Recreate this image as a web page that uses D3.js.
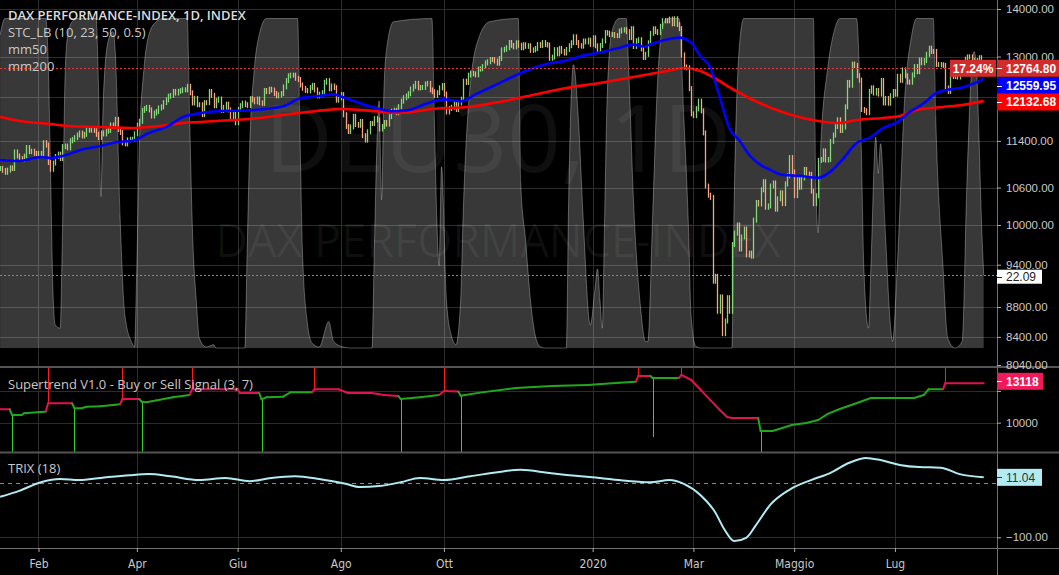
<!DOCTYPE html>
<html><head><meta charset="utf-8">
<script src="https://cdn.jsdelivr.net/npm/d3@7"></script>
<style>html,body{margin:0;padding:0;background:#000;overflow:hidden}svg{display:block}</style>
</head><body><svg id="c" width="1059" height="575"></svg>
<script>
// ---------- DATA ----------
const close2019 = [10921,10887,10856,10892,10931,10919,11205,11136,11090,11071,11131,11282,11210,11218,11181,11173,
11180,11176,11368,11325,11022,10907,11014,11126,11167,11090,11299,11309,11276,11402,11423,11458,11505,11540,11487,11516,
11602,11592,11620,11588,11517,11458,11543,11524,11572,11587,11686,11657,11789,11603,11550,11364,11346,11419,11428,11428,11526,
11681,11754,11954,11988,12010,11963,11850,11905,11935,11999,12020,12101,12153,12222,12235,12313,12282,12315,12328,12344,
12345,12412,12286,12093,12180,12060,12060,11876,12100,12099,12310,12238,12041,12143,12169,11952,12011,12071,11964,11837,11902,11727,
11971,12043,12090,12060,12045,12175,12152,12115,12169,12096,12086,12331,12308,12355,12340,12274,12228,12245,12271,12399,
12521,12616,12630,12629,12568,12543,12437,12373,12332,12323,12387,12430,12342,12227,12260,12289,12490,12522,12362,12419,12386,12147,12189,
12253,11873,11659,11568,11650,11845,11694,11680,11750,11493,11413,11563,11715,11712,11802,11777,11612,11658,11731,11702,11838,11939,
11953,11910,12025,12127,12192,12226,12268,12359,12410,12469,12381,12389,12390,12457,12468,12342,12307,12234,12289,12381,12428,
12263,11925,11990,12013,12097,11970,12094,12164,12512,12486,12629,12670,12655,12634,12748,12755,12799,12872,12895,12941,12940,12910,12867,
12961,13136,13148,13179,13289,13228,13198,13283,13230,13180,13242,13208,13221,13126,13137,13164,13246,13227,13287,13245,13236,
12965,12989,13141,13055,13167,13106,13071,13145,13222,13283,13407,13287,13222,13212,13319,13300,13337,13249];
const close2020 = [13386,13219,13127,13227,13321,13495,13483,13452,13456,13432,13430,13526,13548,13555,13515,13389,13577,13205,13324,13345,13157,12982,
13045,13282,13479,13575,13514,13494,13627,13749,13745,13744,13783,13681,13789,13664,13579,13035,12790,12775,12367,11890,
11857,11985,12128,11945,11542,10625,10475,10439,9161,9232,8742,8939,8442,8610,8929,8742,9701,9874,10000,9633,9815,9936,
9544,9571,9526,10075,10356,10332,10564,10697,10280,10301,10626,10676,10250,10416,10514,10337,10660,10796,11107,10862,
10467,10730,10607,10760,10904,10825,10820,10542,10337,10465,11058,11075,11223,11065,11074,11391,11504,11657,11781,11586,
11650,12021,12487,12431,12848,12820,12617,12530,11970,11949,11911,12315,12382,12281,12331,12262,12524,12093,12178,12089,12232,12311,
12260,12608,12528,12733,12616,12495,12490,12633,12800,12697,12931,12874,12920,13046,13171,13105,13104,12838,12839,12835,12822,12379,12313,
12647,12601,12660,12592,12674,12687,12947,12994,12993,12901,12920,12881,12977,12830,12764.8];

// moving averages: [barIndex, value]
const mm50 = [[0,11066],[8,11049],[17,11118],[21,11101],[26,11135],[35,11257],[42,11309],[49,11379],[55,11397],[62,11540],[70,11666],[76,11827],[83,11900],[90,11938],[104,11956],[118,12031],[125,12181],[132,12219],[139,12257],[143,12200],[150,12087],[157,11993],[164,11938],[170,11956],[178,12087],[185,12162],[192,12124],[199,12276],[208,12469],[215,12626],[222,12764],[229,12864],[236,12919],[243,13020],[250,13081],[257,13163],[264,13245],[268,13204],[272,13266],[278,13349],[283,13390],[288,13286],[292,13000],[296,12781],[300,12200],[304,11628],[308,11414],[313,11118],[317,10981],[321,10896],[326,10812],[333,10796],[341,10762],[346,10862],[351,11066],[357,11361],[363,11468],[368,11628],[374,11737],[379,11919],[385,12087],[390,12276],[396,12352],[401,12390],[407,12488],[410,12559.95]];
const mm200 = [[0,11833],[8,11759],[21,11704],[28,11668],[42,11649],[55,11631],[62,11649],[70,11686],[76,11722],[83,11740],[97,11777],[104,11795],[118,11870],[132,11944],[143,11981],[160,11925],[167,11906],[180,11981],[195,12018],[208,12112],[222,12244],[236,12379],[250,12476],[264,12593],[271,12652],[278,12711],[285,12771],[292,12711],[297,12593],[306,12341],[313,12169],[326,11925],[341,11759],[350,11722],[357,11777],[368,11814],[375,11851],[382,11962],[393,12018],[401,12055],[410,12132.68]];

// STC_LB oscillator (0-100): [barIndex, value]
const stc = [[0,95],[2,100],[19,100],[20,88],[21,55],[22,18],[23,7],[25,6],[26,35],[27,80],[28,94],[30,99],[32,100],[40,100],[41,80],[42,46],[43,75],[45,93],[47,96],[48,90],[50,40],[52,10],[55,1.5],[56,0.3],[57,25],[58,60],[60,85],[62,95],[65,99],[68,100],[78,100],[79,70],[80,40],[82,12],[83,3],[86,0.3],[89,1],[90,0],[102,0],[103,30],[104,60],[106,85],[108,95],[111,100],[124,100],[125,65],[126,30],[128,8],[130,1.5],[133,0.3],[137,8],[139,2],[143,0.3],[146,0],[155,0],[156,30],[157,60],[158,75],[159,45],[160,78],[161,90],[164,99],[180,100],[181,70],[182,40],[183,25],[184,55],[186,15],[188,4],[190,1],[192,15],[193,40],[196,80],[200,95],[204,99],[216,100],[217,50],[219,33],[221,15],[223,4],[225,0.5],[227,0],[236,0],[237,45],[238,75],[239,86],[241,70],[243,40],[246,7],[248,18],[249,24],[250,15],[251,6],[252,40],[253,75],[255,96],[258,100],[261,100],[262,85],[264,45],[267,12],[269,2],[270,2],[272,40],[274,80],[276,97],[278,100],[283,100],[285,70],[287,35],[288,10],[290,0.5],[292,0],[305,0],[306,45],[308,90],[310,100],[339,100],[340,50],[341,35],[342,60],[345,85],[348,97],[350,100],[357,100],[359,60],[360,25],[362,6],[363,25],[365,64],[366,53],[367,62],[369,35],[371,8],[372,2],[374,25],[377,75],[380,95],[382,100],[389,100],[390,70],[393,25],[395,3],[398,0],[401,2],[403,50],[405,85],[406,90],[407,85],[408,65],[409,40],[410,22.09]];

// Supertrend: [barIndex, value, direction (1 = up/green, -1 = down/red)]
const supertrend = [[0,11057,-1],[4,11057,-1],[5,10607,1],[9,10607,1],[10,10740,1],[17,10843,1],[19,10868,1],[20,11530,-1],[30,11530,-1],[31,11136,1],[34,11136,1],[36,11262,1],[42,11300,1],[48,11420,1],[50,11451,1],[51,11869,-1],[58,11869,-1],[59,11656,1],[61,11620,1],[66,11790,1],[72,12000,1],[79,12184,1],[80,12634,-1],[99,12634,-1],[100,12340,-1],[108,12340,-1],[109,11845,1],[111,12000,1],[118,12050,1],[121,12397,1],[130,12397,1],[131,12634,-1],[141,12634,-1],[145,12340,-1],[155,12340,-1],[160,12180,-1],[166,12100,-1],[167,11869,1],[175,12000,1],[183,12184,1],[185,12500,-1],[191,12450,-1],[192,12130,1],[200,12370,1],[215,12740,1],[230,12900,1],[245,12980,1],[258,13140,1],[265,13220,1],[266,13690,-1],[271,13690,-1],[272,13530,1],[283,13530,1],[284,13770,-1],[288,13380,-1],[292,12590,-1],[296,11800,-1],[300,11000,-1],[303,10450,-1],[305,10370,-1],[316,10370,-1],[317,9350,1],[322,9350,1],[330,9820,1],[336,9980,1],[341,10210,1],[345,10690,1],[350,11080,1],[356,11470,1],[363,11950,1],[381,11950,1],[385,12180,1],[387,12634,1],[393,12634,1],[394,13118,-1],[410,13118,-1]];
// buy / sell signals: [barIndex, type, end value of the signal stroke]
const signals = [[5,"buy",7690],[20,"sell",14390],[31,"buy",7690],[51,"sell",14390],[59,"buy",7690],[80,"sell",14390],[109,"buy",7690],[131,"sell",14390],[167,"buy",7690],[185,"sell",14390],[192,"buy",7690],[266,"sell",14390],[272,"buy",8870],[284,"sell",14390],[317,"buy",7690],[394,"sell",14390]];

// TRIX(18): [barIndex, value]
const trix = [[0,-25],[8,-14],[17,2],[25,8],[33,6],[42,10],[54,15],[62,17],[71,13],[83,6],[94,10],[104,4],[113,10],[123,13],[133,8],[144,-1],[150,-7],[158,-5],[167,2],[175,10],[185,6],[196,13],[208,21],[217,25],[229,19],[242,13],[250,10],[258,6],[271,2],[279,6],[285,-1],[292,-22],[298,-53],[302,-86],[306,-107],[311,-101],[315,-78],[321,-40],[329,-12],[338,6],[346,19],[354,38],[361,47],[367,43],[375,34],[383,30],[392,29],[400,17],[410,11.04]];

const priceTicks = [14000,13000,12200,11400,10600,10000,9400,8800,8400,8040];
const priceHidden = [12200];          // label covered by the value tags
const stTicks = [10000,12500];
const stHidden = [12500];
const trixTicks = [0,-100];
const trixHidden = [0];
const timeTickIdx = [16,57,99,142,185,247,289,331,373];
const timeTickLabels = ["Feb","Apr","Giu","Ago","Ott","2020","Mar","Maggio","Lug"];
const lastValues = {price:12764.80, mm50:12559.95, mm200:12132.68, stc:22.09, st:13118, trix:11.04, pct:"17.24%"};

// ---------- SETUP ----------
const closes = close2019.concat(close2020);
const W = 1059, H = 575, PR = 997;
const svg = d3.select("#c");
svg.append("rect").attr("width",W).attr("height",H).attr("fill","#000");

const x = d3.scaleLinear().domain([0, closes.length-1]).range([0.1, 983.7]);
const yP = d3.scaleLog().domain([8040,14000]).range([365,9]);
const yS = d3.scaleLinear().domain([0,100]).range([348,18.5]);
const yST = d3.scaleLinear().domain([7690,14390]).range([452,367]);
const yT = d3.scaleLinear().domain([-100,0]).range([537.3,483.3]);

const defs = svg.append("defs");
defs.append("clipPath").attr("id","cm").append("rect").attr("x",0).attr("y",0).attr("width",PR).attr("height",366);
defs.append("clipPath").attr("id","cs").append("rect").attr("x",0).attr("y",368).attr("width",PR).attr("height",84);
defs.append("clipPath").attr("id","ct").append("rect").attr("x",0).attr("y",453).attr("width",PR).attr("height",95);

const GRID = "#2c2c2c";
const FONT = "'Open Sans','Noto Sans',sans-serif";
const AXF = "'Liberation Sans',Arial,sans-serif";

// vertical grid
svg.append("g").selectAll("line").data(timeTickIdx).join("line")
  .attr("x1",d=>Math.round(x(d))+0.5).attr("x2",d=>Math.round(x(d))+0.5)
  .attr("y1",0).attr("y2",548).attr("stroke",GRID);
// horizontal grids
svg.append("g").selectAll("line").data(priceTicks.filter(d=>d>8100)).join("line")
  .attr("x1",0).attr("x2",PR).attr("y1",d=>Math.round(yP(d))+0.5).attr("y2",d=>Math.round(yP(d))+0.5).attr("stroke",GRID);
svg.append("g").selectAll("line").data(stTicks).join("line")
  .attr("x1",0).attr("x2",PR).attr("y1",d=>Math.round(yST(d))+0.5).attr("y2",d=>Math.round(yST(d))+0.5).attr("stroke",GRID);
svg.append("line").attr("x1",0).attr("x2",PR).attr("y1",Math.round(yT(-100))+0.5).attr("y2",Math.round(yT(-100))+0.5).attr("stroke",GRID);

// ---------- MAIN PANE ----------
const gm = svg.append("g").attr("clip-path","url(#cm)");
// watermark
gm.append("text").attr("x",498).attr("y",172).attr("text-anchor","middle")
  .attr("font-family",FONT).attr("font-size",94).attr("fill","rgba(255,255,255,0.06)").text("DEU30, 1D");
gm.append("text").attr("x",498).attr("y",257).attr("text-anchor","middle")
  .attr("font-family",FONT).attr("font-size",45).attr("fill","rgba(255,255,255,0.06)").text("DAX PERFORMANCE-INDEX");

// STC area
const stcArea = d3.area().x(d=>x(d[0])).y0(yS(0)).y1(d=>yS(d[1])).curve(d3.curveMonotoneX);
const stcLine = d3.line().x(d=>x(d[0])).y(d=>yS(d[1])).curve(d3.curveMonotoneX);
gm.append("path").datum(stc).attr("d",stcArea).attr("fill","rgba(255,255,255,0.22)");
gm.append("path").datum(stc).attr("d",stcLine).attr("fill","none").attr("stroke","rgba(255,255,255,0.3)").attr("stroke-width",1);
// STC last value line
gm.append("line").attr("x1",0).attr("x2",PR).attr("y1",Math.round(yS(lastValues.stc))+0.5).attr("y2",Math.round(yS(lastValues.stc))+0.5)
  .attr("stroke","#8a8a8a").attr("stroke-dasharray","2,2");

// price bars
const UP = "#83d97a", DOWN = "#f7a584";
const ohlc = closes.map((c,i)=>({i, o: i ? closes[i-1] : c, c}));
gm.append("g").selectAll("line").data(ohlc).join("line")
  .attr("x1",d=>Math.round(x(d.i))+0.5).attr("x2",d=>Math.round(x(d.i))+0.5)
  .attr("y1",d=>yP(Math.max(d.o,d.c))-2.5).attr("y2",d=>yP(Math.min(d.o,d.c))+2.5)
  .attr("stroke",d=>d.c>=d.o?UP:DOWN).attr("stroke-width",1.3);

// moving averages
const maLine = d3.line().x(d=>x(d[0])).y(d=>yP(d[1])).curve(d3.curveMonotoneX);
gm.append("path").datum(mm200).attr("d",maLine).attr("fill","none").attr("stroke","#ff0000").attr("stroke-width",2.6);
gm.append("path").datum(mm50).attr("d",maLine).attr("fill","none").attr("stroke","#0000ff").attr("stroke-width",2.6);

// last price line
gm.append("line").attr("x1",0).attr("x2",PR).attr("y1",Math.round(yP(lastValues.price))+0.5).attr("y2",Math.round(yP(lastValues.price))+0.5)
  .attr("stroke","#e53935").attr("stroke-dasharray","2,2");

// legend main
const leg = svg.append("g").attr("font-family",FONT).attr("font-size",13);
leg.append("text").attr("x",8).attr("y",20).attr("fill","#dcdcdc").attr("font-weight",600).text("DAX PERFORMANCE-INDEX, 1D, INDEX");
leg.append("text").attr("x",8).attr("y",37).attr("fill","#c8c8c8").text("STC_LB (10, 23, 50, 0.5)");
leg.append("text").attr("x",8).attr("y",54).attr("fill","#c8c8c8").text("mm50");
leg.append("text").attr("x",8).attr("y",71).attr("fill","#c8c8c8").text("mm200");

// ---------- SUPERTREND PANE ----------
const gs = svg.append("g").attr("clip-path","url(#cs)");
gs.append("g").selectAll("line").data(signals).join("line")
  .attr("x1",d=>Math.round(x(d[0]))+0.5).attr("x2",d=>Math.round(x(d[0]))+0.5)
  .attr("y1",d=>yST(supertrend.find(p=>p[0]===d[0])[1])).attr("y2",d=>yST(d[2]))
  .attr("stroke",d=>d[1]==="buy"?"#34d12a":"#ff1a1a").attr("stroke-width",1);
const segs = d3.pairs(supertrend);
gs.append("g").selectAll("line").data(segs).join("line")
  .attr("x1",d=>x(d[0][0])).attr("y1",d=>yST(d[0][1])).attr("x2",d=>x(d[1][0])).attr("y2",d=>yST(d[1][1]))
  .attr("stroke",d=>d[1][2]>0?"#22a81c":"#e3124f").attr("stroke-width",2).attr("stroke-linecap","round");
svg.append("text").attr("x",8).attr("y",389).attr("font-family",FONT).attr("font-size",13).attr("fill","#c8c8c8")
  .text("Supertrend V1.0 - Buy or Sell Signal (3, 7)");

// ---------- TRIX PANE ----------
const gt = svg.append("g").attr("clip-path","url(#ct)");
gt.append("line").attr("x1",0).attr("x2",PR).attr("y1",Math.round(yT(0))+0.5).attr("y2",Math.round(yT(0))+0.5)
  .attr("stroke","#8a8a8a").attr("stroke-dasharray","4,4");
gt.append("path").datum(trix).attr("d",d3.line().x(d=>x(d[0])).y(d=>yT(d[1])).curve(d3.curveMonotoneX))
  .attr("fill","none").attr("stroke","#b2ebf2").attr("stroke-width",2);
svg.append("text").attr("x",8).attr("y",473).attr("font-family",FONT).attr("font-size",13).attr("fill","#c8c8c8").text("TRIX (18)");

// ---------- AXES / FRAME ----------
const FR = "#6f6f6f";
svg.append("line").attr("x1",0).attr("x2",W).attr("y1",367).attr("y2",367).attr("stroke","#555").attr("stroke-width",2);
svg.append("line").attr("x1",0).attr("x2",W).attr("y1",452.5).attr("y2",452.5).attr("stroke","#555").attr("stroke-width",2);
svg.append("line").attr("x1",0).attr("x2",W).attr("y1",548.5).attr("y2",548.5).attr("stroke",FR);
svg.append("line").attr("x1",PR+0.5).attr("x2",PR+0.5).attr("y1",0).attr("y2",H).attr("stroke",FR);

function styleAxis(g){
  g.select(".domain").remove();
  g.selectAll(".tick line").attr("stroke","#aaa");
  g.selectAll(".tick text").attr("fill","#c9c9c9").attr("font-family",AXF).attr("font-size",11.5);
}
const fmt2 = d3.format(".2f");
svg.append("g").attr("transform",`translate(${PR},0)`)
  .call(d3.axisRight(yP).tickValues(priceTicks).tickFormat(d=>priceHidden.includes(d)?"":fmt2(d)).tickSize(4).tickPadding(5)).call(styleAxis);
svg.append("g").attr("transform",`translate(${PR},0)`)
  .call(d3.axisRight(yST).tickValues(stTicks).tickFormat(d=>stHidden.includes(d)?"":d3.format("d")(d)).tickSize(4).tickPadding(5)).call(styleAxis);
svg.append("g").attr("transform",`translate(${PR},0)`)
  .call(d3.axisRight(yT).tickValues(trixTicks).tickFormat(d=>trixHidden.includes(d)?"":fmt2(d)).tickSize(4).tickPadding(5)).call(styleAxis);
const xa = svg.append("g").attr("transform","translate(0,548)")
  .call(d3.axisBottom(x).tickValues(timeTickIdx).tickFormat((d,i)=>timeTickLabels[i]).tickSize(4).tickPadding(7)).call(styleAxis);
xa.selectAll(".tick text").attr("font-family","'Liberation Sans Narrow','DejaVu Sans Condensed',sans-serif").attr("font-size",12);

// ---------- TAGS ----------
function tag(yc, txt, bg, fg, x0, w, bold, anchorMid, h){
  h = h || 17;
  const g = svg.append("g");
  g.append("rect").attr("x",x0).attr("y",yc-h/2).attr("width",w).attr("height",h).attr("fill",bg);
  if(!anchorMid) g.append("line").attr("x1",x0).attr("x2",x0+5).attr("y1",Math.round(yc)+0.5).attr("y2",Math.round(yc)+0.5).attr("stroke",fg);
  g.append("text").attr("x",anchorMid? x0+w/2 : x0+9).attr("y",yc+4.3).attr("text-anchor",anchorMid?"middle":"start")
    .attr("font-family",AXF).attr("font-size",12).attr("font-weight",bold?"bold":"normal").attr("fill",fg).text(txt);
}
tag(yP(lastValues.price), fmt2(lastValues.price), "#d22b2b", "#fff", PR, W-PR, true);
tag(yP(lastValues.price), lastValues.pct, "#d22b2b", "#fff", 950, 46, true, true);
tag(85.5, fmt2(lastValues.mm50), "#0000ff", "#fff", PR, W-PR, true);
tag(102, fmt2(lastValues.mm200), "#ff0000", "#fff", PR, W-PR, true);
tag(yS(lastValues.stc)+1.5, fmt2(lastValues.stc), "#ffffff", "#222", PR, 45, false, false, 14);
tag(381.3, String(lastValues.st), "#f0195a", "#fff", PR, 46, true);
tag(yT(lastValues.trix), fmt2(lastValues.trix), "#b2ebf2", "#333", PR, 45, false);
</script></body></html>
